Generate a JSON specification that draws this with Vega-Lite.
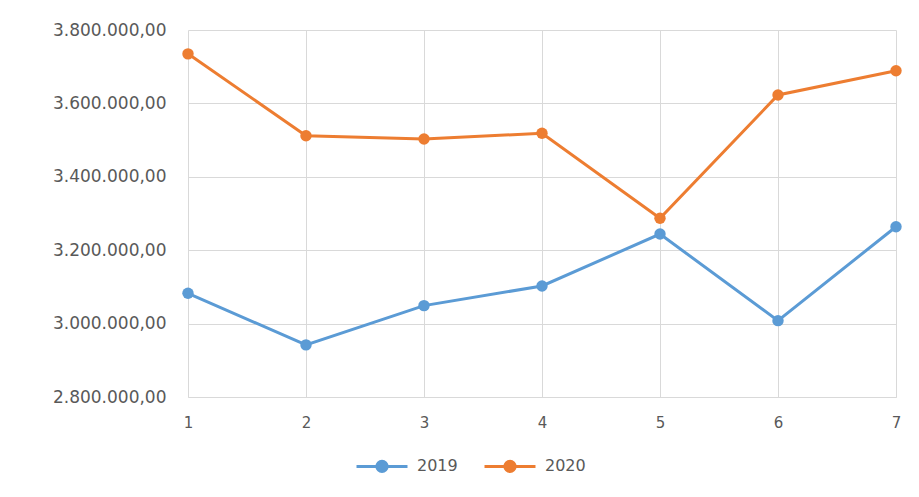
{
  "$schema": "https://vega.github.io/schema/vega-lite/v6.json",
  "width": 708,
  "height": 367,
  "autosize": {"type": "none"},
  "padding": {"left": 188, "top": 30, "right": 23, "bottom": 100},
  "background": "white",
  "config": {
    "locale": {"number": {"decimal": ",", "thousands": ".", "grouping": [3], "currency": ["", " €"]}},
    "view": {"stroke": null},
    "font": "DejaVu Sans",
    "axis": {"labelColor": "#595959", "gridColor": "#d9d9d9", "gridWidth": 1, "ticks": false, "domain": false, "labelFont": "DejaVu Sans"}
  },
  "data": {
    "values": [
      {"x": 1, "year": "2019", "value": 3082500},
      {"x": 2, "year": "2019", "value": 2942000},
      {"x": 3, "year": "2019", "value": 3049000},
      {"x": 4, "year": "2019", "value": 3102500},
      {"x": 5, "year": "2019", "value": 3244000},
      {"x": 6, "year": "2019", "value": 3008000},
      {"x": 7, "year": "2019", "value": 3264000},
      {"x": 1, "year": "2020", "value": 3735000},
      {"x": 2, "year": "2020", "value": 3512000},
      {"x": 3, "year": "2020", "value": 3503000},
      {"x": 4, "year": "2020", "value": 3518500},
      {"x": 5, "year": "2020", "value": 3287000},
      {"x": 6, "year": "2020", "value": 3623000},
      {"x": 7, "year": "2020", "value": 3689000}
    ]
  },
  "mark": {"type": "line", "strokeWidth": 3, "point": {"filled": true, "size": 130, "opacity": 1}},
  "encoding": {
    "x": {
      "field": "x", "type": "quantitative",
      "scale": {"domain": [1, 7], "nice": false, "zero": false},
      "axis": {"title": null, "values": [1, 2, 3, 4, 5, 6, 7], "format": "d", "labelFontSize": 15, "labelPadding": 18, "domain": true, "domainColor": "#d9d9d9", "labelFlush": false}
    },
    "y": {
      "field": "value", "type": "quantitative",
      "scale": {"domain": [2800000, 3800000], "nice": false, "zero": false},
      "axis": {"title": null, "values": [2800000, 3000000, 3200000, 3400000, 3600000, 3800000], "format": ",.2f", "labelFontSize": 17, "labelPadding": 22}
    },
    "color": {
      "field": "year", "type": "nominal",
      "scale": {"domain": ["2019", "2020"], "range": ["#5B9BD5", "#ED7D31"]},
      "legend": {
        "title": null,
        "orient": "none",
        "legendX": 167,
        "legendY": 409,
        "direction": "horizontal",
        "labelFontSize": 16,
        "labelColor": "#595959",
        "labelOffset": 8,
        "columnPadding": 20,
        "symbolType": "M-1,0H1M-0.2,0A0.2,0.2 0 1,1 0.2,0A0.2,0.2 0 1,1 -0.2,0Z",
        "symbolSize": 2600,
        "symbolStrokeWidth": 3,
        "encode": {"symbols": {"update": {"fill": {"scale": "color", "field": "value"}, "stroke": {"scale": "color", "field": "value"}, "opacity": {"value": 1}}}}
      }
    }
  }
}
